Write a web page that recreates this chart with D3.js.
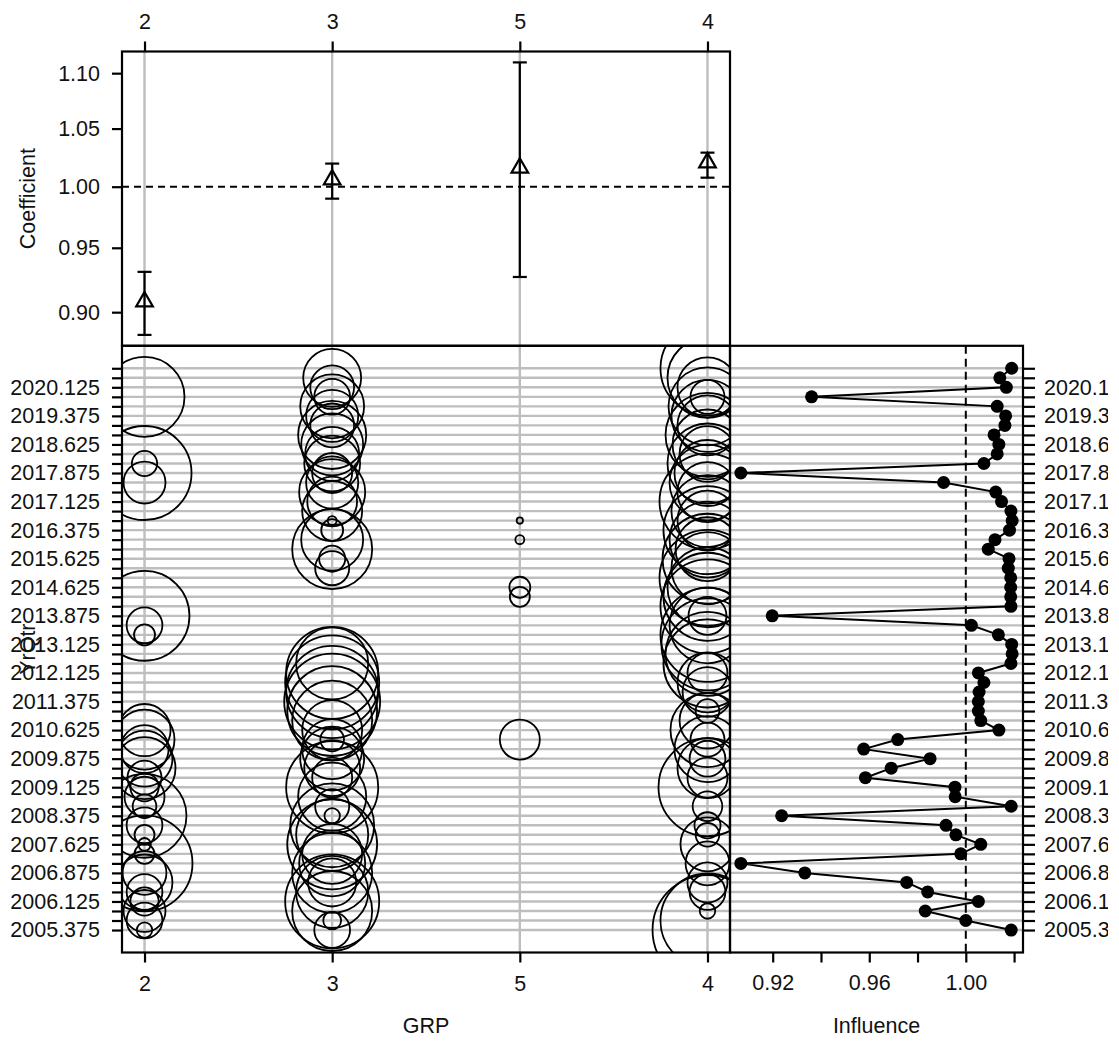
<!DOCTYPE html>
<html>
<head>
<meta charset="utf-8">
<script src="https://cdn.jsdelivr.net/npm/d3@7"></script>
<style>
    body { margin: 0; background: #fff; }
    svg { display: block; font-family: 'Liberation Sans', Arial, Helvetica, sans-serif; }
</style>
</head>
<body>
<svg id="chart"></svg>
<script>
const width = 1119, height = 1041;

// GRP levels, in the order they are plotted
const levels = ['2', '3', '5', '4'];
const coef = [0.908, 1.006, 1.016, 1.0205];
const coefLower = [0.883, 0.990, 0.927, 1.0076];
const coefUpper = [0.931, 1.0196, 1.110, 1.029];

// YrQtr levels (bottom to top)
const yrQtr = [
    2005.375, 2005.625, 2005.875, 2006.125, 2006.375, 2006.625, 2006.875, 2007.125, 2007.375, 2007.625,
    2007.875, 2008.125, 2008.375, 2008.625, 2008.875, 2009.125, 2009.375, 2009.625, 2009.875, 2010.125,
    2010.375, 2010.625, 2010.875, 2011.125, 2011.375, 2011.625, 2011.875, 2012.125, 2012.375, 2012.625,
    2013.125, 2013.375, 2013.625, 2013.875, 2014.125, 2014.375, 2014.625, 2014.875, 2015.125, 2015.625,
    2015.875, 2016.125, 2016.375, 2016.625, 2016.875, 2017.125, 2017.375, 2017.625, 2017.875, 2018.125,
    2018.375, 2018.625, 2018.875, 2019.125, 2019.375, 2019.625, 2019.875, 2020.125, 2020.375, 2020.625,
];

// influence of GRP on each YrQtr
const influence = [
    1.0188, 1.0000, 0.9832, 1.0052, 0.9842, 0.9755, 0.9333, 0.9068, 0.9979, 1.0062,
    0.9959, 0.9918, 0.9237, 1.0188, 0.9956, 0.9955, 0.9584, 0.9691, 0.9852, 0.9577,
    0.9718, 1.0137, 1.0062, 1.0052, 1.0052, 1.0055, 1.0075, 1.0052, 1.0187, 1.0192,
    1.0190, 1.0135, 1.0023, 0.9198, 1.0187, 1.0186, 1.0186, 1.0186, 1.0176, 1.0179,
    1.0093, 1.0121, 1.0181, 1.0192, 1.0187, 1.0148, 1.0124, 0.9908, 0.9068, 1.0075,
    1.0130, 1.0137, 1.0117, 1.0162, 1.0165, 1.0130, 0.9361, 1.0168, 1.0141, 1.0190,
];

// number of records per YrQtr, one array per GRP level
const recordsGrp2 = [
    6, 32, 44, 20, 32, 78, 48, 230, 10, 4,
    10, 32, 176, 14, 40, 20, 29, 96, 78, 58,
    90, 68, 0, 0, 0, 0, 0, 0, 0, 0,
    0, 11, 32, 202, 0, 0, 0, 0, 0, 0,
    0, 0, 0, 0, 0, 0, 0, 44, 221, 16,
    0, 0, 0, 0, 0, 0, 160, 0, 0, 0,
];
const recordsGrp3 = [
    32, 8, 160, 221, 130, 58, 160, 109, 90, 202,
    130, 176, 6, 29, 116, 212, 40, 78, 102, 90,
    14, 90, 160, 202, 230, 212, 221, 212, 130, 0,
    0, 0, 0, 0, 0, 0, 0, 0, 29, 17,
    160, 96, 12, 2, 90, 62, 109, 68, 40, 78,
    73, 96, 116, 48, 68, 102, 32, 48, 84, 0,
];
const recordsGrp5 = [
    0, 0, 0, 0, 0, 0, 0, 0, 0, 0,
    0, 0, 0, 0, 0, 0, 0, 0, 0, 0,
    40, 0, 0, 0, 0, 0, 0, 0, 0, 0,
    0, 0, 0, 0, 0, 10, 11, 0, 0, 0,
    0, 2, 0, 1, 0, 0, 0, 0, 0, 0,
    0, 0, 0, 0, 0, 0, 0, 0, 0, 0,
];
const recordsGrp4 = [
    302, 221, 6, 0, 32, 40, 0, 48, 0, 73,
    14, 17, 0, 22, 0, 240, 40, 90, 32, 109,
    29, 137, 78, 14, 0, 62, 90, 40, 194, 176,
    212, 221, 144, 36, 221, 194, 160, 230, 130, 202,
    102, 144, 194, 90, 130, 230, 90, 144, 109, 160,
    78, 122, 176, 90, 130, 152, 29, 90, 160, 221,
];
const records = [recordsGrp2, recordsGrp3, recordsGrp5, recordsGrp4];

// layout
const left = 122, mid = 730, right = 1023;
const top1 = 51.5, top2 = 345.8, bottom = 952.5;
const fontSize = 21.5;

// R style axis expansion (4% each side)
const pad = ([a, b]) => [a - 0.04 * (b - a), b + 0.04 * (b - a)];

const svg = d3.select('#chart').attr('width', width).attr('height', height);

const x = d3.scaleLinear().domain(pad([1, levels.length])).range([left, mid]);
const logExt = d3.extent(coefLower.concat(coefUpper)).map(Math.log);
const yCoef = d3.scaleLog().domain(pad(logExt).map(Math.exp)).range([top2, top1]);
const yRow = d3.scaleLinear().domain(pad([0, yrQtr.length - 1])).range([bottom, top2]);
const xInf = d3.scaleLinear().domain(pad(d3.extent(influence))).range([mid, right]);
const rSize = d3.scaleSqrt().domain([0, 250]).range([0, 50]);

const rows = d3.range(yrQtr.length);

// grid lines
const grid = svg.append('g').attr('stroke', '#bebebe').attr('stroke-width', 2.4);
grid.selectAll('.hgrid')
    .data(rows)
    .enter()
    .append('line')
    .attr('x1', left)
    .attr('x2', right)
    .attr('y1', (d) => yRow(d))
    .attr('y2', (d) => yRow(d));
grid.selectAll('.vgrid')
    .data(levels)
    .enter()
    .append('line')
    .attr('x1', (d, i) => x(i + 1))
    .attr('x2', (d, i) => x(i + 1))
    .attr('y1', top1)
    .attr('y2', bottom);

// coefficient panel
svg.append('line')
    .attr('x1', left).attr('x2', mid)
    .attr('y1', yCoef(1)).attr('y2', yCoef(1))
    .attr('stroke', '#000').attr('stroke-width', 2).attr('stroke-dasharray', '7,5');

const bars = svg.append('g').attr('stroke', '#000').attr('stroke-width', 2.2).attr('fill', 'none');
levels.forEach((lev, i) => {
    const cx = x(i + 1);
    bars.append('line').attr('x1', cx).attr('x2', cx).attr('y1', yCoef(coefLower[i])).attr('y2', yCoef(coefUpper[i]));
    [coefLower[i], coefUpper[i]].forEach((v) => {
        bars.append('line').attr('x1', cx - 7).attr('x2', cx + 7).attr('y1', yCoef(v)).attr('y2', yCoef(v));
    });
    bars.append('path')
        .attr('d', d3.symbol(d3.symbolTriangle, 120)())
        .attr('transform', 'translate(' + cx + ',' + yCoef(coef[i]) + ')');
});

// distribution panel
svg.append('clipPath').attr('id', 'clipDist')
    .append('rect').attr('x', left).attr('y', top2).attr('width', mid - left).attr('height', bottom - top2);

const dist = svg.append('g').attr('clip-path', 'url(#clipDist)')
    .attr('fill', 'none').attr('stroke', '#000').attr('stroke-width', 1.8);
records.forEach((arr, i) => {
    dist.selectAll('.c' + i)
        .data(arr.map((n, row) => ({ n, row })).filter((d) => d.n > 0))
        .enter()
        .append('circle')
        .attr('cx', x(i + 1))
        .attr('cy', (d) => yRow(d.row))
        .attr('r', (d) => rSize(d.n));
});

// influence panel
svg.append('line')
    .attr('x1', xInf(1)).attr('x2', xInf(1))
    .attr('y1', top2).attr('y2', bottom)
    .attr('stroke', '#000').attr('stroke-width', 2).attr('stroke-dasharray', '8,5');

svg.append('path')
    .datum(influence)
    .attr('fill', 'none')
    .attr('stroke', '#000')
    .attr('stroke-width', 2)
    .attr('d', d3.line().x((d) => xInf(d)).y((d, i) => yRow(i)));

svg.append('g')
    .selectAll('circle')
    .data(influence)
    .enter()
    .append('circle')
    .attr('cx', (d) => xInf(d))
    .attr('cy', (d, i) => yRow(i))
    .attr('r', 6.5)
    .attr('fill', '#000');

// frames
[[left, top1, mid, top2], [left, top2, mid, bottom], [mid, top2, right, bottom]].forEach(([x0, y0, x1, y1]) => {
    svg.append('rect')
        .attr('x', x0).attr('y', y0).attr('width', x1 - x0).attr('height', y1 - y0)
        .attr('fill', 'none').attr('stroke', '#000').attr('stroke-width', 2.2);
});

// axes
function styleAxis(g) {
    g.select('.domain').remove();
    g.selectAll('.tick line').attr('stroke', '#000').attr('stroke-width', 2.2);
    g.selectAll('.tick text').attr('fill', '#111').style('font-size', fontSize + 'px');
}

const grpFormat = (d) => levels[d - 1];

svg.append('g')
    .attr('transform', 'translate(0,' + top1 + ')')
    .call(d3.axisTop(x).tickValues([1, 2, 3, 4]).tickFormat(grpFormat).tickSize(10).tickPadding(13))
    .call(styleAxis);

svg.append('g')
    .attr('transform', 'translate(0,' + bottom + ')')
    .call(d3.axisBottom(x).tickValues([1, 2, 3, 4]).tickFormat(grpFormat).tickSize(10).tickPadding(13))
    .call(styleAxis);

svg.append('g')
    .attr('transform', 'translate(' + left + ',0)')
    .call(d3.axisLeft(yCoef).tickValues([0.9, 0.95, 1.0, 1.05, 1.1]).tickFormat(d3.format('.2f')).tickSize(10).tickPadding(12))
    .call(styleAxis);

const rowFormat = (d) => (d % 3 === 0 ? d3.format('.3f')(yrQtr[d]) : '');

svg.append('g')
    .attr('transform', 'translate(' + left + ',0)')
    .call(d3.axisLeft(yRow).tickValues(rows).tickFormat(rowFormat).tickSize(10).tickPadding(12))
    .call(styleAxis);

// right labels run past the plotting device edge, as in the original
svg.append('clipPath').attr('id', 'clipDevice')
    .append('rect').attr('x', 0).attr('y', 0).attr('width', 1108).attr('height', height);

svg.append('g')
    .attr('clip-path', 'url(#clipDevice)')
    .append('g')
    .attr('transform', 'translate(' + right + ',0)')
    .call(d3.axisRight(yRow).tickValues(rows).tickFormat(rowFormat).tickSize(12).tickPadding(9))
    .call(styleAxis);

const infTicks = [0.92, 0.94, 0.96, 0.98, 1.0, 1.02];
const infLabels = [0.92, 0.96, 1.0];
svg.append('g')
    .attr('transform', 'translate(0,' + bottom + ')')
    .call(d3.axisBottom(xInf).tickValues(infTicks)
        .tickFormat((d) => (infLabels.includes(d) ? d3.format('.2f')(d) : ''))
        .tickSize(10).tickPadding(12))
    .call(styleAxis);

// axis titles
const title = (txt, tx, ty, rot) => {
    svg.append('text')
        .attr('transform', 'translate(' + tx + ',' + ty + ')' + (rot ? ' rotate(-90)' : ''))
        .attr('text-anchor', 'middle')
        .style('font-size', fontSize + 'px')
        .attr('fill', '#111')
        .text(txt);
};
title('Coefficient', 35, (top1 + top2) / 2, true);
title('YrQtr', 35, (top2 + bottom) / 2, true);
title('GRP', (left + mid) / 2, 1033, false);
title('Influence', (mid + right) / 2, 1033, false);
</script>
</body>
</html>
